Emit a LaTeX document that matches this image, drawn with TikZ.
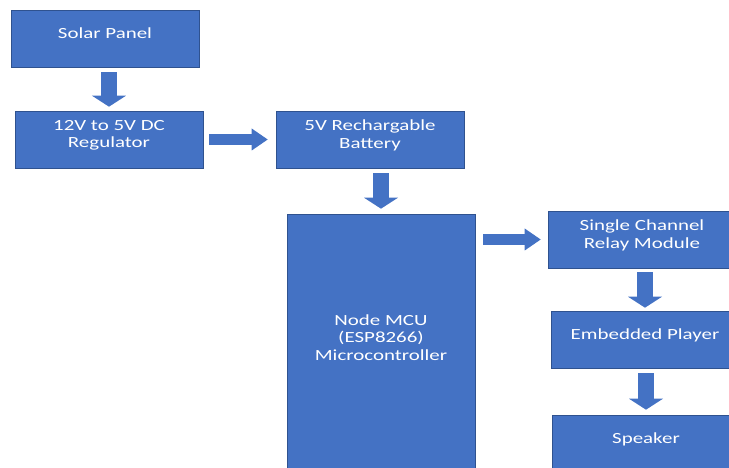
\documentclass[tikz,border=0pt]{standalone}
\usepackage{fontspec}
\setmainfont{Carlito}[FakeStretch=1.35]
\usetikzlibrary{arrows.meta}
\definecolor{boxblue}{HTML}{4472C4}
\definecolor{edgeblue}{HTML}{2F528F}
\tikzstyle{block} = [rectangle, minimum width=188pt, minimum height=57pt, inner sep=0pt, align=center, draw=edgeblue, line width=0.6pt, fill=boxblue, text=white, font=\fontsize{15.5}{17.5}\selectfont, execute at end node={\rule[-11pt]{0pt}{11pt}}]
\tikzstyle{downarrow} = [line width=16pt, draw=boxblue, -{Triangle[length=11pt, width=34pt, line width=0pt]}]
\tikzstyle{rightarrow} = [line width=11pt, draw=boxblue, -{Triangle[length=16pt, width=22pt, line width=0pt]}]

\begin{document}
\begin{tikzpicture}[x=1pt, y=1pt, node distance=101pt]
      \clip (-105, 38.5) rectangle (624, -429.5);
      \fill[white] (-105, 38.5) rectangle (624, -429.5);

      \node (solar) [block] {Solar Panel};
      \node (reg) [block, below of=solar, xshift=4pt] {12V to 5V DC\\Regulator};
      \node (batt) [block, right of=reg, xshift=160pt] {5V Rechargable\\Battery};
      \node (mcu) [block, below of=batt, xshift=11pt, yshift=-102.5pt, minimum height=258pt] {Node MCU\\(ESP8266)\\Microcontroller};
      \node (relay) [block, right of=batt, xshift=171pt, yshift=-100pt] {Single Channel\\Relay Module};
      \node (player) [block, below of=relay, xshift=3pt, yshift=1pt] {Embedded Player};
      \node (speaker) [block, below of=player, xshift=1pt, yshift=-3pt] {Speaker};

      \draw [downarrow, shorten <=5pt, shorten >=4pt] (reg.north |- solar.south) -- (reg.north);
      \draw [rightarrow, shorten <=6pt, shorten >=8pt] (reg.east) -- (batt.west);
      \draw [downarrow, shorten <=5pt, shorten >=5pt] (mcu.north |- batt.south) -- (mcu.north);
      \draw [rightarrow, shorten <=8pt, shorten >=7pt] (mcu.east |- relay.west) -- (relay.west);
      \draw [downarrow, shorten <=4pt, shorten >=3pt] (player.north |- relay.south) -- (player.north);
      \draw [downarrow, shorten <=5pt, shorten >=5pt] (speaker.north |- player.south) -- (speaker.north);
    \end{tikzpicture}
\end{document}
